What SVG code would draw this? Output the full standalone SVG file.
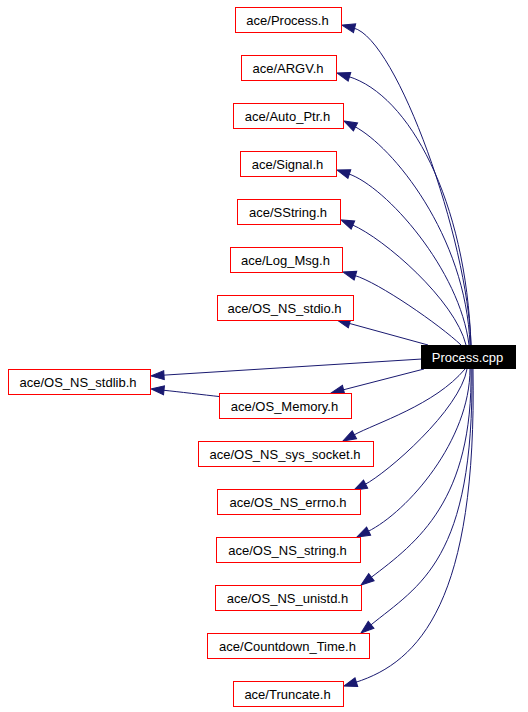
<svg xmlns="http://www.w3.org/2000/svg" width="528" height="712" viewBox="0 0 528 712">
<style>
.n rect{fill:#fff;stroke:#ff0000;stroke-width:1}
.n text{font-family:"Liberation Sans",Arial,sans-serif;font-size:13px;fill:#000;text-anchor:middle}
.r rect{fill:#000;stroke:#000;stroke-width:1}
.r text{font-family:"Liberation Sans",Arial,sans-serif;font-size:13px;fill:#fff;text-anchor:middle}
.e path{fill:none;stroke:#191970;stroke-width:1;marker-end:url(#ah)}
</style>
<defs>
<marker id="ah" markerUnits="userSpaceOnUse" markerWidth="13" markerHeight="9" viewBox="0 0 13 9" refX="1" refY="4.5" orient="auto" overflow="visible">
<path d="M0,0 L13,4.5 L0,9 z" fill="#191970" stroke="#191970" stroke-width="1"/>
</marker>
</defs>
<rect width="528" height="712" fill="#fff"/>
<g id="edges" class="e">
<path d="M471,345 C468,240 397,39 353.6,28"/>
<path d="M471,345 C466,200 409,95 348.5,76.5"/>
<path d="M470,345 C466,235 392,146 354.6,126.5"/>
<path d="M469,345 C460,270 386,186.4 348.4,173.8"/>
<path d="M466,345 C455,300 384,238.5 352,224.7"/>
<path d="M461,345 C440,325 378.5,282.4 354.5,275.4"/>
<path d="M428,345 L348.6,323.2"/>
<path d="M422,359 L163,375.2"/>
<path d="M219,396.5 C205,395 178,391.7 163,390.2"/>
<path d="M424,369 L342.6,390"/>
<path d="M465,369 C435,405 375.4,423.2 353.5,435.2"/>
<path d="M467,369 C460,410 387,473 364.7,484.6"/>
<path d="M470,369 C470,440 408,511.5 367.7,531.6"/>
<path d="M471,369 C473,500 418,542 370.6,577.8"/>
<path d="M472,369 C474,560 420,585 370.3,625.4"/>
<path d="M473,369 C477,600 420,662 355.4,682.4"/>
</g>
<g id="n_process_cpp" class="r"><rect x="421.5" y="345.5" width="94" height="23"/><text x="467.5" y="361.5">Process.cpp</text></g>
<g id="n_process_h" class="n"><rect x="235.5" y="7.5" width="106" height="25"/><text x="287.5" y="24.5">ace/Process.h</text></g>
<g id="n_argv" class="n"><rect x="241.5" y="55.5" width="95" height="25"/><text x="288" y="72.5">ace/ARGV.h</text></g>
<g id="n_auto_ptr" class="n"><rect x="233.5" y="103.5" width="110" height="25"/><text x="287.5" y="120.5">ace/Auto_Ptr.h</text></g>
<g id="n_signal" class="n"><rect x="240.5" y="151.5" width="96" height="25"/><text x="287.5" y="168.5">ace/Signal.h</text></g>
<g id="n_sstring" class="n"><rect x="237.5" y="199.5" width="103" height="25"/><text x="288" y="216.5">ace/SString.h</text></g>
<g id="n_log_msg" class="n"><rect x="230.5" y="247.5" width="112" height="25"/><text x="285.5" y="264.5">ace/Log_Msg.h</text></g>
<g id="n_stdio" class="n"><rect x="217.5" y="295.5" width="136" height="25"/><text x="284.5" y="312.5">ace/OS_NS_stdio.h</text></g>
<g id="n_stdlib" class="n"><rect x="8.5" y="369.5" width="142" height="25"/><text x="78" y="386.5">ace/OS_NS_stdlib.h</text></g>
<g id="n_memory" class="n"><rect x="219.5" y="393.5" width="132" height="25"/><text x="284.5" y="410.5">ace/OS_Memory.h</text></g>
<g id="n_socket" class="n"><rect x="198.5" y="441.5" width="175" height="25"/><text x="285" y="458.5">ace/OS_NS_sys_socket.h</text></g>
<g id="n_errno" class="n"><rect x="217.5" y="489.5" width="143" height="25"/><text x="288" y="506.5">ace/OS_NS_errno.h</text></g>
<g id="n_string" class="n"><rect x="216.5" y="537.5" width="144" height="25"/><text x="287.5" y="554.5">ace/OS_NS_string.h</text></g>
<g id="n_unistd" class="n"><rect x="215.5" y="585.5" width="146" height="25"/><text x="287.5" y="602.5">ace/OS_NS_unistd.h</text></g>
<g id="n_countdown" class="n"><rect x="207.5" y="633.5" width="162" height="25"/><text x="287.5" y="650.5">ace/Countdown_Time.h</text></g>
<g id="n_truncate" class="n"><rect x="233.5" y="681.5" width="110" height="25"/><text x="287.5" y="698.5">ace/Truncate.h</text></g>
</svg>
